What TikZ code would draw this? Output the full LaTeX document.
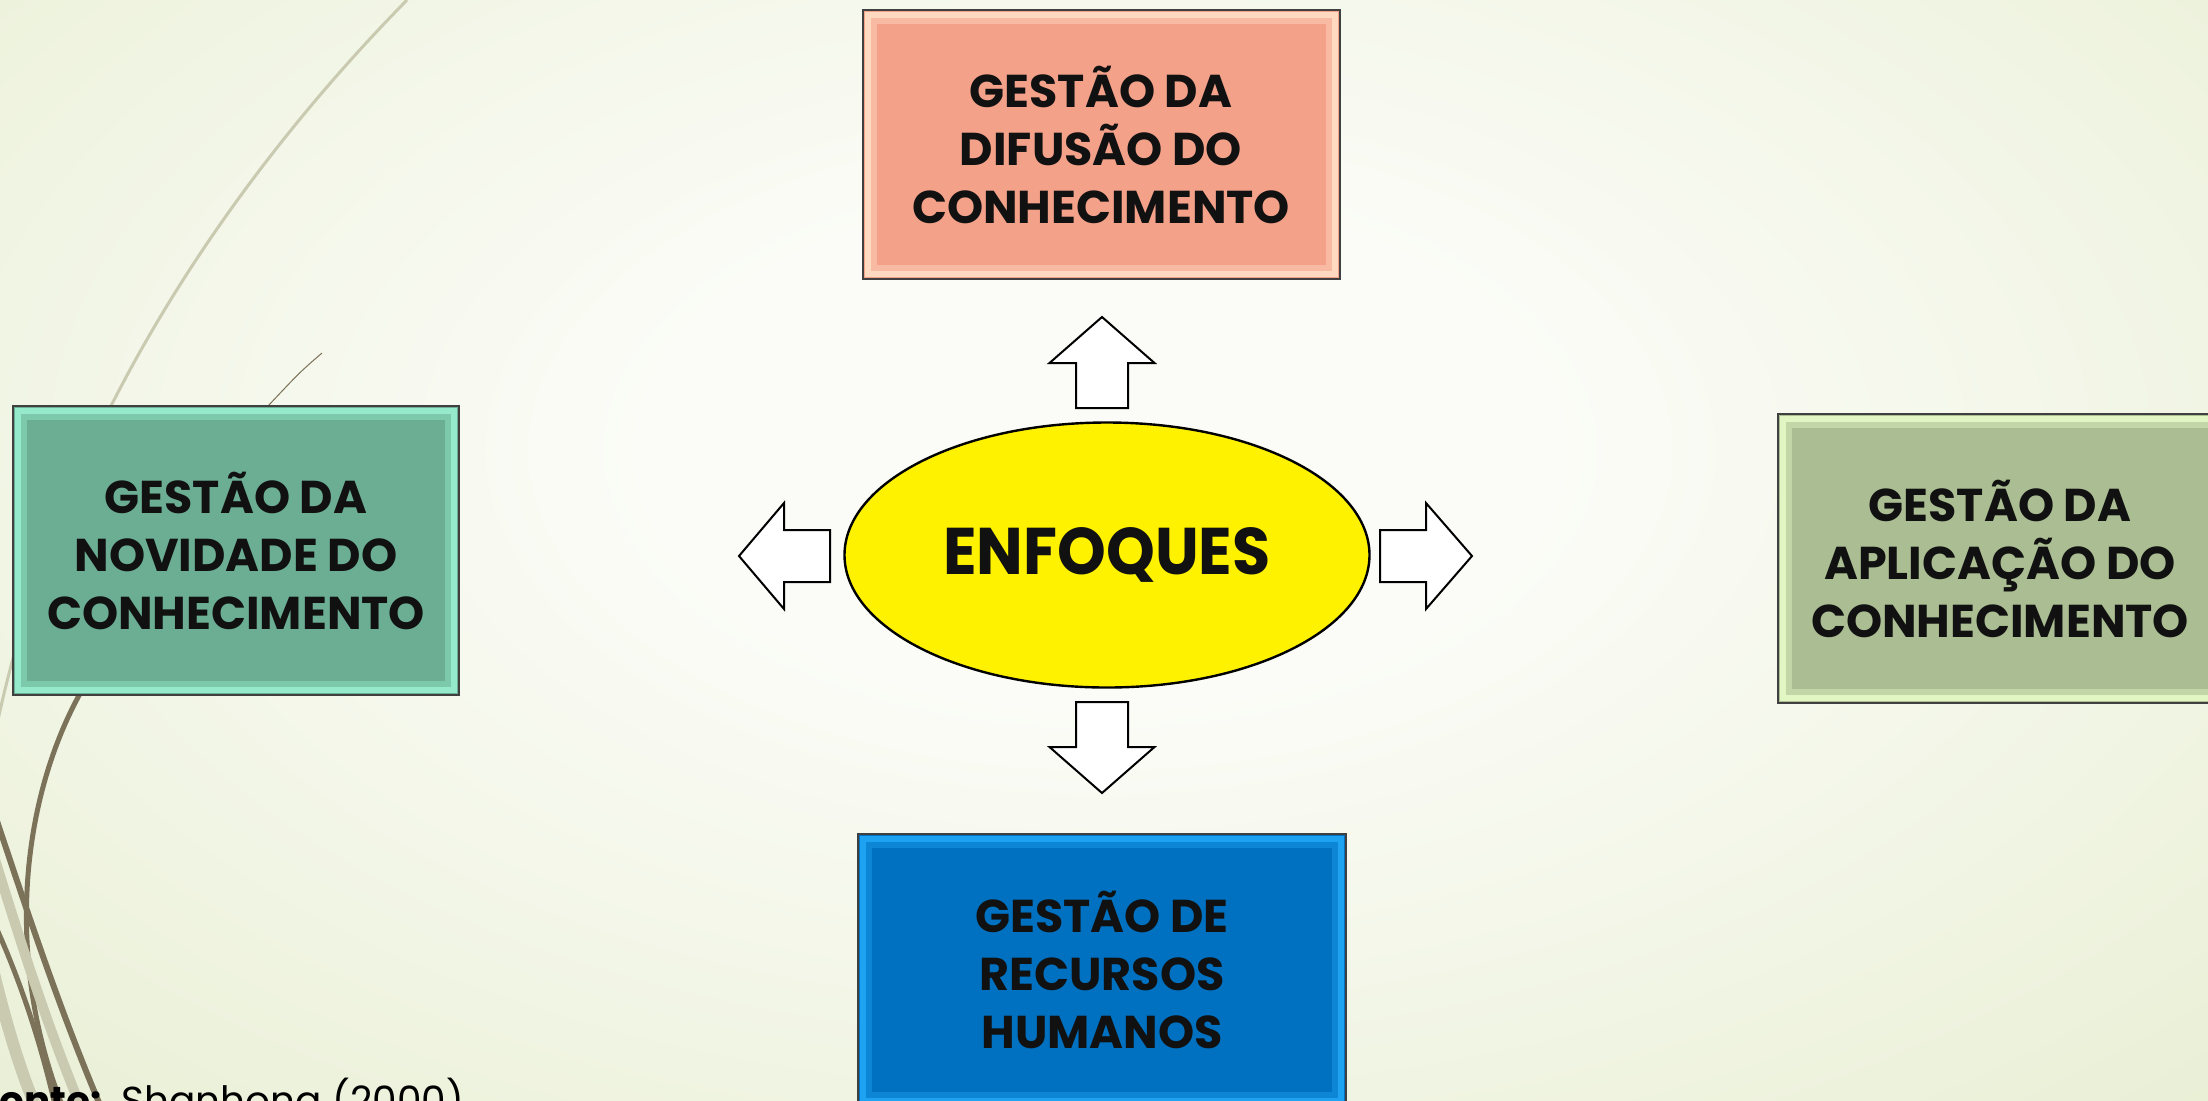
\documentclass[tikz,border=0pt]{standalone}
\usepackage{fontspec}
\setmainfont{Poppins}
\usetikzlibrary{shapes.geometric,positioning}

\definecolor{fundocentro}{HTML}{FBFCF7}
\definecolor{fundoborda}{HTML}{DFE8C2}
\definecolor{fio}{HTML}{7B7259}
\definecolor{fioclaro}{HTML}{C9CAB0}
\definecolor{salmao}{HTML}{F4A18A}
\definecolor{salmaoluz}{HTML}{FFD9C0}
\definecolor{verdeagua}{HTML}{6BAE94}
\definecolor{verdeagualuz}{HTML}{95EACB}
\definecolor{oliva}{HTML}{ABBD92}
\definecolor{olivaluz}{HTML}{E2F6C4}
\definecolor{azul}{HTML}{0070C0}
\definecolor{azulluz}{HTML}{1EA2F2}
\definecolor{texto}{HTML}{111111}

\pgfdeclareradialshading{fundo}{\pgfpoint{0bp}{0bp}}{color(0bp)=(fundocentro); color(9bp)=(fundocentro); color(46bp)=(fundoborda); color(75bp)=(fundoborda)}

\tikzset{
  bloco/.style 2 args={rectangle, draw=black!75, line width=1pt, fill=#1, inner sep=0pt,
    align=center, text=texto, font=\fontsize{23}{29}\selectfont\bfseries,
    path picture={
      \draw[#2, line width=3pt] ([shift={(2.5pt,2.5pt)}]path picture bounding box.south west) rectangle ([shift={(-2.5pt,-2.5pt)}]path picture bounding box.north east);
      \draw[#2, line width=3pt, opacity=0.45] ([shift={(5.5pt,5.5pt)}]path picture bounding box.south west) rectangle ([shift={(-5.5pt,-5.5pt)}]path picture bounding box.north east);
    }},
  centro/.style={ellipse, draw=black, line width=1.2pt, fill=yellow, inner sep=0pt,
    minimum width=262.5pt, minimum height=132.5pt, text=texto},
  setabranca/.style={draw=black, fill=white, line width=1pt, line join=miter},
  pics/seta/.style n args={4}{code={
    \draw[setabranca] (0,-#3) -- (#1,-#3) -- (#1,-#4) -- ({#1+#2},0) -- (#1,#4) -- (#1,#3) -- (0,#3) -- cycle;
  }},
}

\begin{document}
\begin{tikzpicture}[x=0.5pt, y=-0.5pt]
  \useasboundingbox (0,0) rectangle (2208,1100);
  \clip (0,0) rectangle (2208,1100);
  \shade[shading=fundo] (-150,-250) rectangle (2350,1150);

  \draw[fioclaro, line width=1.5pt] (407,0) .. controls (240,170) and (50,430) .. (-10,760);
  \draw[fio, line width=0.5pt] (322,353) .. controls (300,372) .. (268,406);
  \draw[fio, line width=2.5pt] (82,690) .. controls (20,800) and (5,960) .. (62,1105);
  \draw[fioclaro, line width=5pt] (-8,850) .. controls (20,940) and (45,1020) .. (80,1105);
  \draw[fio, line width=3pt] (-5,815) .. controls (30,920) and (60,1010) .. (100,1105);
  \draw[fioclaro, line width=6pt] (-8,965) .. controls (5,1020) and (20,1070) .. (35,1105);
  \draw[fio, line width=2.5pt] (-5,925) .. controls (20,980) and (40,1040) .. (55,1105);

  \node[bloco={salmao}{salmaoluz}, minimum width=238.5pt, minimum height=134.5pt] (difusao) at (1101,144.5) {GESTÃO DA\\DIFUSÃO DO\\CONHECIMENTO};
  \node[bloco={verdeagua}{verdeagualuz}, minimum width=223pt, minimum height=144.5pt] (novidade) at (236,550.5) {GESTÃO DA\\NOVIDADE DO\\CONHECIMENTO};
  \node[bloco={oliva}{olivaluz}, minimum width=222pt, minimum height=144.5pt] (aplicacao) at (2000,558.5) {GESTÃO DA\\APLICAÇÃO DO\\CONHECIMENTO};
  \node[bloco={azul}{azulluz}, minimum width=244pt, minimum height=136pt] (recursos) at (1102,970) {GESTÃO DE\\RECURSOS\\HUMANOS};

  \node[centro] (enfoques) at (1107,555) {\scalebox{0.94}[1]{\fontsize{33}{36}\selectfont\bfseries ENFOQUES}};

  \pic[rotate=90] at (1102,408) {seta={45}{46}{26}{52.5}};
  \pic[rotate=-90] at (1102,702) {seta={45}{46}{26}{52.5}};
  \pic[rotate=180] at (830,556) {seta={46}{45}{26}{53}};
  \pic at (1380,556) {seta={46}{46}{26}{53}};

  \node[anchor=north west, inner sep=0pt, text=black, font=\fontsize{19.5}{22}\selectfont] (fonte) at (-22,1078) {\textbf{Fonte:}\hspace{3pt} Shanhong (2000)};
\end{tikzpicture}
\end{document}
